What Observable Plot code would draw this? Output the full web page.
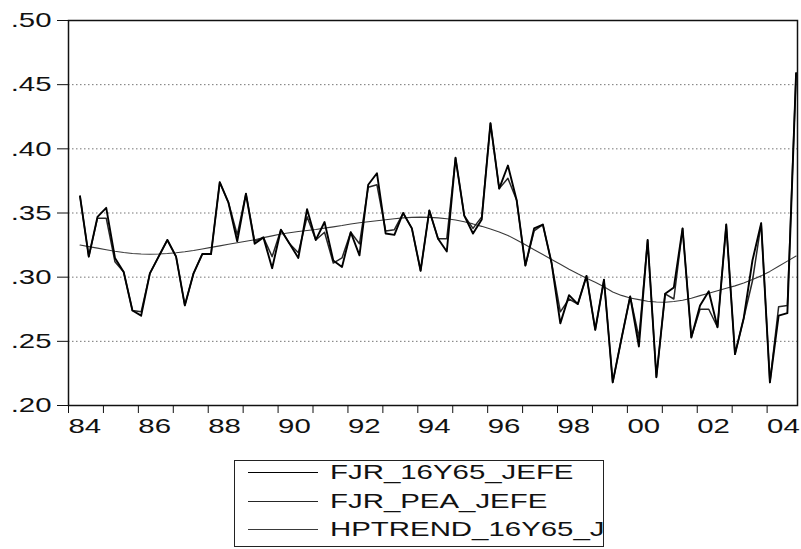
<!DOCTYPE html>
<html>
<head>
<meta charset="utf-8">
<script src="https://cdn.jsdelivr.net/npm/d3@7"></script>
<script src="https://cdn.jsdelivr.net/npm/@observablehq/plot@0.6"></script>
<style>
  html, body { margin: 0; padding: 0; background: #fff; }
  body { font-family: "Liberation Sans", Arial, sans-serif; width: 801px; height: 549px; position: relative; overflow: hidden; }
  #chart svg { display: block; }
  #legend { position: absolute; left: 234px; top: 460px; width: 370px; height: 87px; border: 1.5px solid #222; box-sizing: border-box; }
  #legend .ln { position: absolute; left: 13px; width: 70px; height: 0; }
  #legend .tx { position: absolute; left: 95px; font-size: 21px; line-height: 21px; color: #111; white-space: nowrap; transform: scaleX(1.4); transform-origin: left center; }
</style>
</head>
<body>
<div id="chart"></div>
<div id="legend"></div>
<script>
// ---- data (quarterly, starting 1984Q2) ----
const startYear = 1984;
const startQuarter = 2;

const seriesNames = ["FJR_16Y65_JEFE", "FJR_PEA_JEFE", "HPTREND_16Y65_J"];

const fjr16y65 = [
  .363, .316, .347, .354, .315, .304, .274, .270, .303, .316,
  .329, .316, .278, .303, .318, .318, .374, .358, .328, .365,
  .326, .331, .307, .337, .326, .315, .353, .329, .343, .313,
  .308, .335, .317, .372, .381, .334, .333, .350, .338, .305,
  .352, .330, .320, .393, .348, .334, .345, .420, .369, .387,
  .360, .309, .338, .341, .311, .264, .286, .279, .301, .259,
  .298, .218, .252, .285, .246, .329, .222, .287, .292, .338,
  .253, .278, .289, .261, .341, .240, .268, .313, .342, .218,
  .270, .272, .459
];

const fjrPea = [
  .363, .316, .346, .346, .312, .304, .274, .273, .303, .316,
  .329, .316, .278, .303, .318, .318, .374, .358, .333, .365,
  .328, .331, .316, .337, .326, .319, .347, .329, .335, .311,
  .315, .335, .326, .370, .372, .336, .337, .350, .338, .305,
  .352, .330, .330, .393, .348, .338, .347, .420, .369, .377,
  .360, .309, .336, .341, .311, .273, .283, .279, .301, .259,
  .298, .218, .252, .285, .253, .329, .222, .287, .283, .338,
  .253, .275, .275, .261, .341, .240, .268, .297, .342, .218,
  .277, .278, .459
];

const hpTrend = [
  .3250, .3238, .3226, .3214, .3202, .3192, .3184, .3180, .3178, .3180,
  .3184, .3190, .3198, .3208, .3220, .3232, .3244, .3256, .3268, .3280,
  .3292, .3308, .3322, .3336, .3346, .3356, .3364, .3372, .3382, .3392,
  .3402, .3414, .3424, .3432, .3440, .3448, .3455, .3462, .3466, .3468,
  .3466, .3462, .3455, .3446, .3432, .3415, .3396, .3375, .3352, .3325,
  .3290, .3252, .3214, .3176, .3138, .3100, .3062, .3026, .2992, .2960,
  .2925, .2885, .2858, .2838, .2825, .2812, .2806, .2805, .2810, .2820,
  .2836, .2856, .2874, .2894, .2914, .2932, .2955, .2982, .3010, .3045,
  .3085, .3125, .3165
];

const yTicks = [0.20, 0.25, 0.30, 0.35, 0.40, 0.45, 0.50];
const yTickLabels = [".20", ".25", ".30", ".35", ".40", ".45", ".50"];
const yGrid = [0.25, 0.30, 0.35, 0.40, 0.45];
const xTickYears = [1984,1985,1986,1987,1988,1989,1990,1991,1992,1993,1994,1995,1996,1997,1998,1999,2000,2001,2002,2003,2004];
const xLabelYears = [1984,1986,1988,1990,1992,1994,1996,1998,2000,2002,2004];
const xLabelText = ["84","86","88","90","92","94","96","98","00","02","04"];

const seriesColors = ["#000", "#262626", "#3a3a3a"];
const seriesWidths = [1.9, 1.5, 1.1];

// ---- build rows ----
const toTime = i => startYear + (startQuarter - 1 + i) / 4 + 0.08;
const rows = arr => arr.map((v, i) => ({t: toTime(i), v}));
const yLabel = new Map(yTicks.map((d, i) => [d.toFixed(2), yTickLabels[i]]));
const xLabel = new Map(xLabelYears.map((d, i) => [d, xLabelText[i]]));

const chart = Plot.plot({
  width: 801,
  height: 450,
  marginLeft: 68,
  marginRight: 4,
  marginTop: 20,
  marginBottom: 45,
  style: {fontFamily: "'Liberation Sans', Arial, sans-serif", color: "#111", background: "#fff"},
  x: {domain: [1984, 2004.87]},
  y: {domain: [0.20, 0.50]},
  marks: [
    Plot.gridY(yGrid, {stroke: "#666", strokeOpacity: 0.9, strokeWidth: 1, strokeDasharray: "1.5,2.5"}),
    Plot.line(rows(hpTrend), {x: "t", y: "v", stroke: seriesColors[2], strokeWidth: seriesWidths[2]}),
    Plot.line(rows(fjrPea), {x: "t", y: "v", stroke: seriesColors[1], strokeWidth: seriesWidths[1]}),
    Plot.line(rows(fjr16y65), {x: "t", y: "v", stroke: seriesColors[0], strokeWidth: seriesWidths[0]}),
    Plot.frame({stroke: "#111", strokeWidth: 1.5}),
    Plot.axisY({ticks: yTicks, tickFormat: d => yLabel.get(d.toFixed(2)), tickSize: 11, tickPadding: 6, fontSize: 21, label: null, stroke: "#111"}),
    Plot.axisX({ticks: xTickYears, tickFormat: d => xLabel.get(d) ?? "", tickSize: 8, tickPadding: 5, fontSize: 21, textAnchor: "start", label: null, stroke: "#111"})
  ]
});

// stretch tick labels horizontally like the reference
d3.select(chart).selectAll("text").each(function() {
  const el = d3.select(this);
  const tr = el.attr("transform");
  if (tr) {
    el.attr("transform", tr + " scale(1.4,1)");
  } else {
    const x = +el.attr("x") || 0, y = +el.attr("y") || 0;
    el.attr("x", null).attr("y", null).attr("transform", `translate(${x},${y}) scale(1.4,1)`);
  }
});

document.getElementById("chart").appendChild(chart);

// ---- legend ----
const legend = document.getElementById("legend");
const rowCenters = [11, 40, 68];
seriesNames.forEach((name, i) => {
  const ln = document.createElement("div");
  ln.className = "ln";
  ln.style.top = rowCenters[i] + "px";
  ln.style.borderTop = "1.2px solid " + seriesColors[i];
  legend.appendChild(ln);
  const tx = document.createElement("div");
  tx.className = "tx";
  tx.style.top = (rowCenters[i] - 11) + "px";
  tx.textContent = name;
  legend.appendChild(tx);
});
</script>
</body>
</html>
